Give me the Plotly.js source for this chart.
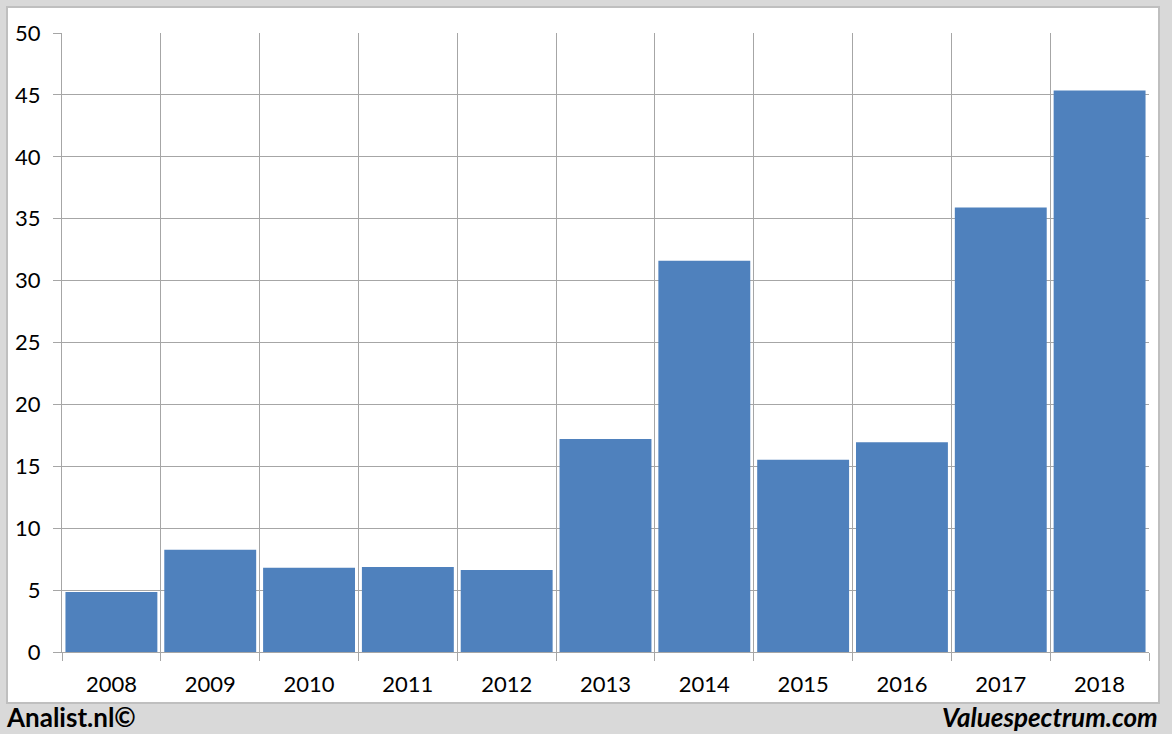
<!DOCTYPE html>
<html>
<head>
<meta charset="utf-8">
<script src="https://cdn.plot.ly/plotly-3.0.1.min.js"></script>
<style>html,body{margin:0;padding:0;background:#d9d9d9;}#chart{width:1172px;height:734px;}</style>
</head>
<body>
<div id="chart"></div>
<script>
const years = ["2008","2009","2010","2011","2012","2013","2014","2015","2016","2017","2018"];
const values = [4.85, 8.25, 6.8, 6.87, 6.63, 17.2, 31.6, 15.52, 16.95, 35.9, 45.35];
const yTicks = [0,5,10,15,20,25,30,35,40,45,50];
const footerLeft = "Analist.nl©";
const footerRight = "Valuespectrum.com";

const L = 62, R = 1149, T = 33, B = 652, W = 1172, H = 734;
const px = x => (x - L) / (R - L);
const py = y => (B - y) / (B - T);

const trace = {
  type: "bar",
  x: years,
  y: values,
  marker: {color: "#4f81bd", line: {width: 0}},
  hoverinfo: "x+y"
};

const layout = {
  width: W, height: H,
  margin: {l: L, r: W - R, t: T, b: H - B, pad: 0},
  paper_bgcolor: "#d9d9d9",
  plot_bgcolor: "#ffffff",
  bargap: 0.07,
  showlegend: false,
  font: {family: "Lato, 'Open Sans', sans-serif", size: 22, color: "#000"},
  xaxis: {
    type: "category",
    tickson: "boundaries",
    showgrid: true,
    gridcolor: "#a6a6a6",
    gridwidth: 1,
    ticks: "outside",
    ticklen: 8,
    tickcolor: "#a6a6a6",
    showline: true,
    linecolor: "#a6a6a6",
    tickfont: {size: 22, color: "#000"},
    ticklabelstandoff: 13,
    fixedrange: true
  },
  yaxis: {
    range: [0, 50],
    tickvals: yTicks,
    ticktext: yTicks.map(String),
    showgrid: true,
    gridcolor: "#a6a6a6",
    gridwidth: 1,
    ticks: "outside",
    ticklen: 8,
    tickcolor: "#a6a6a6",
    showline: true,
    linecolor: "#a6a6a6",
    zeroline: false,
    tickfont: {size: 22, color: "#000"},
    ticklabelstandoff: 8,
    fixedrange: true
  },
  shapes: [{
    type: "rect", xref: "paper", yref: "paper", layer: "below",
    x0: px(7), x1: px(1159), y0: py(703), y1: py(7),
    fillcolor: "#ffffff", line: {color: "#bfbfbf", width: 2}
  }],
  annotations: [
    {xref: "paper", yref: "paper", x: px(4), y: py(717), xanchor: "left", yanchor: "middle",
     text: "<b>" + footerLeft + "</b>", showarrow: false, font: {size: 26, color: "#000"}},
    {xref: "paper", yref: "paper", x: px(1160), y: py(717), xanchor: "right", yanchor: "middle",
     text: "<b><i>" + footerRight + "</i></b>", showarrow: false, font: {size: 26, color: "#000"}}
  ]
};

Plotly.newPlot("chart", [trace], layout, {displayModeBar: false, staticPlot: true});
</script>
</body>
</html>
